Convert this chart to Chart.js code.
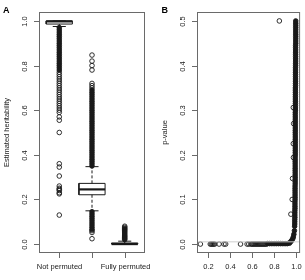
<!DOCTYPE html>
<html>
<head>
<meta charset="utf-8">
<script src="https://cdn.jsdelivr.net/npm/chart.js@4/dist/chart.umd.min.js"></script>
<style>
html, body { margin: 0; padding: 0; background: #fff; }
#wrap { position: relative; width: 305px; height: 280px; }
canvas { position: absolute; top: 0; }
</style>
</head>
<body>
<div id="wrap">
  <canvas id="chartA" width="152" height="280" style="left:0"></canvas>
  <canvas id="chartB" width="153" height="280" style="left:152px"></canvas>
</div>
<script>
// ---- Panel A: estimated heritability, boxplot per group ----
const groups = ['Not permuted', '', 'Fully permuted'];
const q1 = [0.986, 0.221, 0.0];
const med = [0.998, 0.245, 0.0];
const q3 = [1.0, 0.272, 0.005];
const whiskLo = [0.975, 0.149, 0.0];
const whiskHi = [1.0, 0.347, 0.013];

// outliers: "dense" runs are so packed they print as a solid bar
const notDense = [0.97, 0.96, 0.95, 0.94, 0.93, 0.92, 0.91, 0.90, 0.89, 0.88, 0.87, 0.86, 0.85, 0.84, 0.83, 0.82, 0.81, 0.80, 0.79, 0.78];
const notSparse = [0.77, 0.76, 0.75, 0.74, 0.73, 0.72, 0.71, 0.70, 0.69, 0.68, 0.67, 0.66, 0.65, 0.64, 0.63, 0.62, 0.61, 0.60, 0.59, 0.57, 0.555, 0.50, 0.36, 0.345, 0.305, 0.26, 0.25, 0.245, 0.24, 0.23, 0.225, 0.13];
const partDense = [0.69, 0.68, 0.67, 0.66, 0.65, 0.64, 0.63, 0.62, 0.61, 0.60, 0.59, 0.58, 0.57, 0.56, 0.55, 0.54, 0.53, 0.52, 0.51, 0.50, 0.49, 0.48, 0.47, 0.46, 0.45, 0.44, 0.43, 0.42, 0.41, 0.40, 0.39, 0.38, 0.37, 0.36, 0.35,
  0.145, 0.135, 0.125, 0.115, 0.105, 0.095, 0.085, 0.075, 0.065];
const partSparse = [0.847, 0.82, 0.80, 0.78, 0.72, 0.71, 0.70, 0.06, 0.052, 0.024];
const fullDense = [0.07, 0.065, 0.06, 0.055, 0.05, 0.045, 0.04, 0.035, 0.03, 0.025, 0.02];
const fullSparse = [0.08, 0.075];

const yTicksA = [0, 0.2, 0.4, 0.6, 0.8, 1.0];
const yLabelsA = ['0.0', '0.2', '0.4', '0.6', '0.8', '1.0'];

// ---- Panel B: heritability vs p-value ----
const rowH = [0.13, 0.22, 0.23, 0.24, 0.25, 0.26, 0.30, 0.345, 0.36, 0.495, 0.555, 0.57, 0.59, 0.60, 0.61, 0.62, 0.63, 0.64, 0.65, 0.66, 0.67, 0.68, 0.69, 0.70, 0.71, 0.72, 0.73];
const rowP = [0, 0, 0, 0, 0, 0, 0, 0, 0, 0, 0, 0, 0, 0, 0, 0, 0, 0, 0, 0, 0, 0, 0, 0, 0, 0, 0];
const cornerH = [0.74, 0.76, 0.78, 0.80, 0.82, 0.84, 0.86, 0.88, 0.90, 0.92, 0.94, 0.95, 0.96, 0.97, 0.975, 0.98, 0.985, 0.987];
const cornerP = [0.001, 0.001, 0.001, 0.001, 0.001, 0.001, 0.001, 0.001, 0.001, 0.001, 0.002, 0.005, 0.008, 0.012, 0.016, 0.022, 0.03, 0.04];
const colP = [0.045, 0.05, 0.055, 0.06, 0.065, 0.07, 0.075, 0.08, 0.085, 0.09, 0.095,
  0.10, 0.105, 0.11, 0.115, 0.12, 0.125, 0.13, 0.135, 0.14, 0.145, 0.15, 0.155, 0.16, 0.165, 0.17, 0.175, 0.18, 0.185, 0.19, 0.195,
  0.20, 0.205, 0.21, 0.215, 0.22, 0.225, 0.23, 0.235, 0.24, 0.245, 0.25, 0.255, 0.26, 0.265, 0.27, 0.275, 0.28, 0.285, 0.29, 0.295, 0.30,
  0.305, 0.31, 0.315, 0.32, 0.325, 0.33, 0.335, 0.34, 0.345, 0.35, 0.355, 0.36, 0.365, 0.37, 0.375, 0.38, 0.385, 0.39, 0.395,
  0.40, 0.405, 0.41, 0.415, 0.42, 0.425, 0.43, 0.435, 0.44, 0.445, 0.45, 0.455, 0.46, 0.465, 0.47, 0.475, 0.48, 0.485, 0.49, 0.495, 0.50];
const colH = [0.988, 0.988, 0.988, 0.989, 0.989, 0.989, 0.989, 0.990, 0.990, 0.990, 0.990,
  0.991, 0.991, 0.991, 0.991, 0.991, 0.991, 0.991, 0.992, 0.992, 0.992, 0.992, 0.992, 0.992, 0.992, 0.992, 0.992, 0.992, 0.992, 0.992, 0.992,
  0.993, 0.993, 0.993, 0.993, 0.993, 0.993, 0.993, 0.993, 0.993, 0.993, 0.993, 0.993, 0.993, 0.993, 0.993, 0.993, 0.993, 0.993, 0.993, 0.993, 0.994,
  0.994, 0.994, 0.994, 0.994, 0.994, 0.994, 0.994, 0.994, 0.994, 0.994, 0.995, 0.995, 0.995, 0.995, 0.995, 0.995, 0.995, 0.995, 0.995,
  0.996, 0.996, 0.996, 0.996, 0.996, 0.996, 0.996, 0.996, 0.996, 0.996, 0.997, 0.997, 0.997, 0.997, 0.997, 0.997, 0.997, 0.997, 0.997, 0.997, 0.997];
const sideH = [0.953, 0.965, 0.968, 0.976, 0.975, 0.978, 0.975, 0.848];
const sideP = [0.067, 0.10, 0.147, 0.194, 0.225, 0.27, 0.306, 0.50];
const refP = 0.005;

const xTicksB = [0.2, 0.4, 0.6, 0.8, 1.0];
const xLabelsB = ['0.2', '0.4', '0.6', '0.8', '1.0'];
const yTicksB = [0, 0.1, 0.2, 0.3, 0.4, 0.5];
const yLabelsB = ['0.0', '0.1', '0.2', '0.3', '0.4', '0.5'];
const xMinB = 0.0993, xMaxB = 1.0367;

const INK = '#1a1a1a';
const FONT = '"Liberation Sans", Arial, sans-serif';

// R-style frame, outward ticks, rotated y labels
const rAxes = {
  id: 'rAxes',
  afterDraw(chart, args, o) {
    const { ctx, chartArea: a, scales: { x, y } } = chart;
    ctx.save();
    ctx.strokeStyle = '#6a6a6a';
    ctx.lineWidth = 1;
    ctx.strokeRect(a.left + 0.5, a.top + 0.5, a.right - a.left - 1, a.bottom - a.top - 1);
    ctx.fillStyle = '#222';
    ctx.font = '7.5px ' + FONT;
    ctx.textAlign = 'center';
    ctx.textBaseline = 'middle';
    o.xTicks.forEach((v, i) => {
      const px = Math.round(x.getPixelForValue(v)) + 0.5;
      ctx.beginPath(); ctx.moveTo(px, a.bottom); ctx.lineTo(px, a.bottom + 5); ctx.stroke();
      if (o.xLabels[i]) ctx.fillText(o.xLabels[i], px, a.bottom + 14);
    });
    o.yTicks.forEach((v, i) => {
      const py = Math.round(y.getPixelForValue(v)) + 0.5;
      ctx.beginPath(); ctx.moveTo(a.left, py); ctx.lineTo(a.left - 5, py); ctx.stroke();
      ctx.save();
      ctx.translate(a.left - 14, py);
      ctx.rotate(-Math.PI / 2);
      ctx.fillText(o.yLabels[i], 0, 0);
      ctx.restore();
    });
    ctx.save();
    ctx.translate(a.left - 32, (a.top + a.bottom) / 2);
    ctx.rotate(-Math.PI / 2);
    ctx.fillText(o.yTitle, 0, 0);
    ctx.restore();
    ctx.font = 'bold 9px ' + FONT;
    ctx.textAlign = 'left';
    ctx.textBaseline = 'alphabetic';
    ctx.fillStyle = '#000';
    ctx.fillText(o.letter, o.letterX, 12.5);
    ctx.restore();
  }
};

function seg(pts, width, dash) {
  return { data: pts, showLine: true, borderColor: INK, borderWidth: width, borderDash: dash || [],
           pointRadius: 0, fill: false, tension: 0 };
}
function pts(xs, ys, filled) {
  return { data: ys.map((v, i) => ({ x: xs[i], y: v })), showLine: false,
           pointRadius: 2.3, pointBorderWidth: 0.9, borderColor: INK, backgroundColor: filled ? INK : 'rgba(0,0,0,0)' };
}
function col(x, ys, filled) {
  return { data: ys.map(v => ({ x: x, y: v })), showLine: false,
           pointRadius: 2.3, pointBorderWidth: 0.9, borderColor: INK, backgroundColor: filled ? INK : 'rgba(0,0,0,0)' };
}

// ---- build panel A datasets ----
const dsA = [];
const hw = 0.4, cap = 0.2;
for (let i = 0; i < groups.length; i++) {
  const c = i + 1;
  dsA.push(seg([{ x: c, y: q3[i] }, { x: c, y: whiskHi[i] }], 1, [3, 2]));
  dsA.push(seg([{ x: c, y: q1[i] }, { x: c, y: whiskLo[i] }], 1, [3, 2]));
  dsA.push(seg([{ x: c - cap, y: whiskHi[i] }, { x: c + cap, y: whiskHi[i] }], 1));
  dsA.push(seg([{ x: c - cap, y: whiskLo[i] }, { x: c + cap, y: whiskLo[i] }], 1));
  dsA.push(seg([{ x: c - hw, y: q1[i] }, { x: c + hw, y: q1[i] }, { x: c + hw, y: q3[i] },
                { x: c - hw, y: q3[i] }, { x: c - hw, y: q1[i] }], 1));
  dsA.push(seg([{ x: c - hw, y: med[i] }, { x: c + hw, y: med[i] }], 2.2));
}
dsA.push(col(1, notDense, true), col(1, notSparse, false));
dsA.push(col(2, partDense, true), col(2, partSparse, false));
dsA.push(col(3, fullDense, true), col(3, fullSparse, false));

new Chart(document.getElementById('chartA'), {
  type: 'scatter',
  data: { datasets: dsA },
  options: {
    animation: false, responsive: false, devicePixelRatio: 1,
    layout: { padding: { left: 39, right: 7, top: 12, bottom: 27 } },
    scales: {
      x: { type: 'linear', min: 0.38, max: 3.62, display: false },
      y: { type: 'linear', min: -0.04, max: 1.04, display: false }
    },
    plugins: {
      legend: { display: false }, tooltip: { enabled: false },
      rAxes: { xTicks: [1, 2, 3], xLabels: groups, yTicks: yTicksA, yLabels: yLabelsA,
               yTitle: 'Estimated heritability', letter: 'A', letterX: 3 }
    }
  },
  plugins: [rAxes]
});

// ---- panel B ----
const dsB = [];
dsB.push({ data: [{ x: xMinB, y: refP }, { x: xMaxB, y: refP }], showLine: true, borderColor: '#cfcfcf',
           borderWidth: 1, pointRadius: 0, fill: false });
dsB.push(pts(rowH, rowP, false));
dsB.push(pts(cornerH, cornerP, true));
dsB.push(pts(colH, colP, true));
dsB.push(pts(sideH, sideP, false));

new Chart(document.getElementById('chartB'), {
  type: 'scatter',
  data: { datasets: dsB },
  options: {
    animation: false, responsive: false, devicePixelRatio: 1,
    layout: { padding: { left: 45, right: 3, top: 12, bottom: 27 } },
    scales: {
      x: { type: 'linear', min: xMinB, max: xMaxB, display: false },
      y: { type: 'linear', min: -0.02, max: 0.52, display: false }
    },
    plugins: {
      legend: { display: false }, tooltip: { enabled: false },
      rAxes: { xTicks: xTicksB, xLabels: xLabelsB, yTicks: yTicksB, yLabels: yLabelsB,
               yTitle: 'p-value', letter: 'B', letterX: 9.5 }
    }
  },
  plugins: [rAxes]
});
</script>
</body>
</html>
